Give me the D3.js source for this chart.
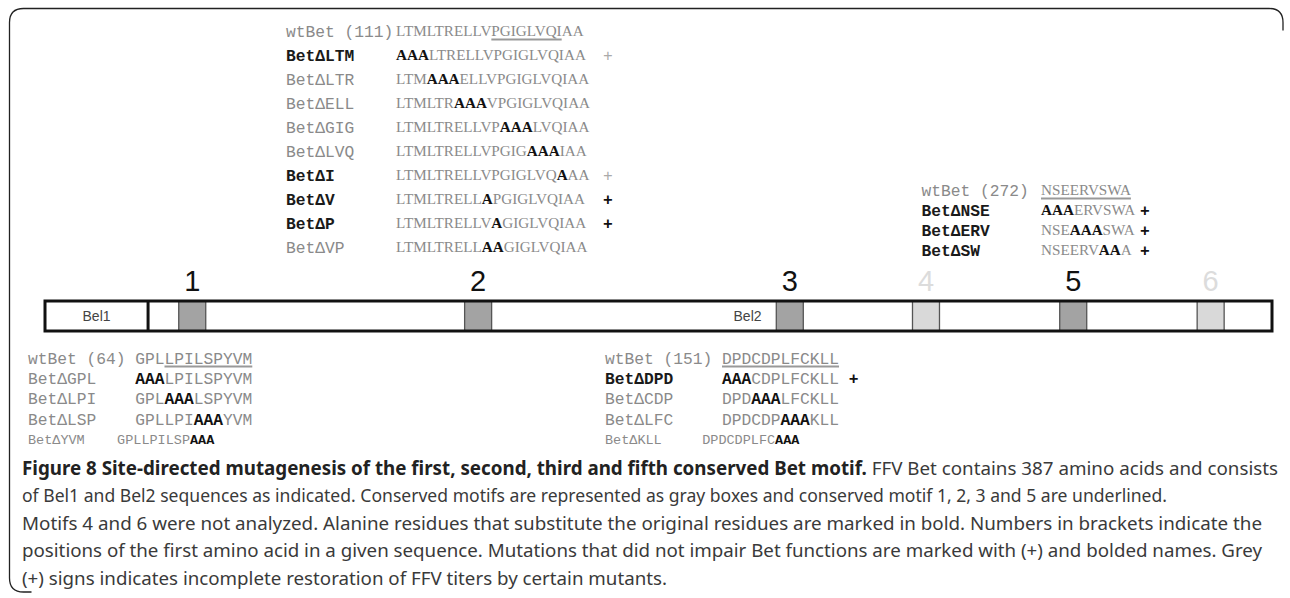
<!DOCTYPE html>
<html>
<head>
<meta charset="utf-8">
<script src="https://cdn.jsdelivr.net/npm/d3@7"></script>
<style>
  body { margin: 0; background: #fff; }
  svg { display: block; }
</style>
</head>
<body>
<script>
var width = 1290, height = 598;

// --- data ---
// motif 2 (top)
var topWt = "LTMLTRELLVPGIGLVQIAA", topPos = 111;
var topNames = ["BetΔLTM", "BetΔLTR", "BetΔELL", "BetΔGIG", "BetΔLVQ", "BetΔI", "BetΔV", "BetΔP", "BetΔVP"];
var topSeqs = ["AAALTRELLVPGIGLVQIAA", "LTMAAAELLVPGIGLVQIAA", "LTMLTRAAAVPGIGLVQIAA", "LTMLTRELLVPAAALVQIAA",
               "LTMLTRELLVPGIGAAAIAA", "LTMLTRELLVPGIGLVQAAA", "LTMLTRELLAPGIGLVQIAA", "LTMLTRELLVAGIGLVQIAA",
               "LTMLTRELLAAGIGLVQIAA"];
var topPlus = [1, 0, 0, 0, 0, 1, 2, 2, 0];      // 0 none, 1 grey +, 2 black +
var topUnder = [10, 18];

// motif 5 (right)
var rightWt = "NSEERVSWA", rightPos = 272;
var rightNames = ["BetΔNSE", "BetΔERV", "BetΔSW"];
var rightSeqs = ["AAAERVSWA", "NSEAAASWA", "NSEERVAAA"];
var rightPlus = [2, 2, 2];
var rightUnder = [0, 9];

// motif 1 (bottom left)
var leftWt = "GPLLPILSPYVM", leftPos = 64;
var leftNames = ["BetΔGPL", "BetΔLPI", "BetΔLSP", "BetΔYVM"];
var leftSeqs = ["AAALPILSPYVM", "GPLAAALSPYVM", "GPLLPIAAAYVM", "GPLLPILSPAAA"];
var leftPlus = [0, 0, 0, 0];
var leftUnder = [3, 12];

// motif 3 (bottom middle)
var midWt = "DPDCDPLFCKLL", midPos = 151;
var midNames = ["BetΔDPD", "BetΔCDP", "BetΔLFC", "BetΔKLL"];
var midSeqs = ["AAACDPLFCKLL", "DPDAAALFCKLL", "DPDCDPAAAKLL", "DPDCDPLFCAAA"];
var midPlus = [2, 0, 0, 0];
var midUnder = [0, 12];

// Bet bar, positions in % of bar length
var motifLabels = ["1", "2", "3", "4", "5", "6"];
var motifStart = [10.9, 34.2, 59.6, 70.7, 82.7, 93.9];
var motifLen = 2.2;
var motifDone = [1, 1, 1, 0, 1, 0];
var bel1End = 8.4;
var bel2End = 58.4;

var captionLines = [
  [["Figure 8 Site-directed mutagenesis of the first, second, third and fifth conserved Bet motif.", true],
   [" FFV Bet contains 387 amino acids and consists", false]],
  [["of Bel1 and Bel2 sequences as indicated. Conserved motifs are represented as gray boxes and conserved motif 1, 2, 3 and 5 are underlined.", false]],
  [["Motifs 4 and 6 were not analyzed. Alanine residues that substitute the original residues are marked in bold. Numbers in brackets indicate the", false]],
  [["positions of the first amino acid in a given sequence. Mutations that did not impair Bet functions are marked with (+) and bolded names. Grey", false]],
  [["(+) signs indicates incomplete restoration of FFV titers by certain mutants.", false]]
];
var captionWidths = [1256, 1145, 1240, 1240, 645];

// --- drawing ---
var svg = d3.select("body").append("svg")
    .attr("width", width)
    .attr("height", height);

// frame: open box, rounded corners top-left, top-right, bottom-left
var r = 14, fx0 = 9.5, fy0 = 8.5, fx1 = 1283, fy1 = 592;
svg.append("path")
    .attr("d", "M" + fx1 + "," + (fy0 + r + 8) +
               "L" + fx1 + "," + (fy0 + r) + "Q" + fx1 + "," + fy0 + " " + (fx1 - r) + "," + fy0 +
               "L" + (fx0 + r) + "," + fy0 + "Q" + fx0 + "," + fy0 + " " + fx0 + "," + (fy0 + r) +
               "L" + fx0 + "," + (fy1 - r) + "Q" + fx0 + "," + fy1 + " " + (fx0 + r) + "," + fy1 +
               "L" + (fx0 + r + 8) + "," + fy1)
    .attr("fill", "none")
    .attr("stroke", "#222")
    .attr("stroke-width", 1.3);

var mono = "'Liberation Mono', 'Courier New', monospace";
var serif = "'Liberation Serif', 'Times New Roman', serif";
var cw = 9.75, fsMono = 16.25, fsSmall = 13.5;
var grey = "#8a8a8a", dark = "#1a1a1a";

// o: x0, y0, dy, seqCol (mono) or seqX (serif), plusX, smallLast
function drawBlock(wt, pos, names, seqs, plus, under, o) {
    var row = d3.scaleLinear().domain([0, 1]).range([o.y0, o.y0 + o.dy]);
    var g = svg.append("g")
        .attr("font-family", mono)
        .attr("font-size", fsMono);

    var rows = [{name: "wtBet (" + pos + ")", seq: wt, plus: 0, wt: true}];
    names.forEach(function(n, i) { rows.push({name: n, seq: seqs[i], plus: plus[i], wt: false}); });

    rows.forEach(function(d, i) {
        var y = row(i);
        var small = o.smallLast && i === rows.length - 1;
        var fs = small ? fsSmall : fsMono;
        var col = d3.scaleLinear().domain([0, 1]).range([o.x0, o.x0 + cw * fs / fsMono]);
        g.append("text")
            .attr("x", col(0)).attr("y", y)
            .attr("dy", "0.35em")
            .attr("font-size", fs)
            .attr("font-weight", d.plus > 0 ? "bold" : "normal")
            .attr("fill", d.plus > 0 ? dark : grey)
            .text(d.name);

        var sx = o.serif ? o.seqX : col(o.seqCol);
        var t = g.append("text").attr("x", sx).attr("y", y).attr("dy", "0.35em")
            .attr("font-size", fs);
        if (o.serif) t.attr("font-family", serif).attr("font-size", o.fsSeq);
        // runs of mutated / original residues
        var runs = [];
        for (var k = 0; k < d.seq.length; k++) {
            var b = !d.wt && d.seq[k] !== wt[k];
            if (runs.length && runs[runs.length - 1].b === b) runs[runs.length - 1].s += d.seq[k];
            else runs.push({s: d.seq[k], b: b});
        }
        runs.forEach(function(u) {
            t.append("tspan")
                .attr("font-weight", u.b ? "bold" : "normal")
                .attr("fill", u.b ? "#111" : grey)
                .text(u.s);
        });

        if (d.plus > 0) {
            g.append("text")
                .attr("x", o.serif ? o.plusX : col(o.seqCol + d.seq.length + 1)).attr("y", y)
                .attr("dy", "0.35em")
                .attr("font-weight", d.plus === 2 ? "bold" : "normal")
                .attr("fill", d.plus === 2 ? "#111" : "#aaa")
                .text("+");
        }
        if (d.wt) {
            // underline the conserved motif: measure the residues in place
            var node = t.node();
            var ux0 = node.getStartPositionOfChar(under[0]).x;
            var ux1 = node.getEndPositionOfChar(under[1] - 1).x;
            g.append("line")
                .attr("x1", ux0).attr("x2", ux1)
                .attr("y1", y + 8.5).attr("y2", y + 8.5)
                .attr("stroke", "#999").attr("stroke-width", 2.2);
        }
    });
}

drawBlock(topWt, topPos, topNames, topSeqs, topPlus, topUnder,
          {x0: 286, y0: 31, dy: 24, serif: true, seqX: 396, fsSeq: 15.2, plusX: 603});
drawBlock(rightWt, rightPos, rightNames, rightSeqs, rightPlus, rightUnder,
          {x0: 921.5, y0: 190, dy: 20, serif: true, seqX: 1041, fsSeq: 15.2, plusX: 1140});
drawBlock(leftWt, leftPos, leftNames, leftSeqs, leftPlus, leftUnder,
          {x0: 28, y0: 358, dy: 20.3, seqCol: 11, smallLast: true});
drawBlock(midWt, midPos, midNames, midSeqs, midPlus, midUnder,
          {x0: 605, y0: 358, dy: 20.3, seqCol: 12, smallLast: true});

// Bet bar
var bx = d3.scaleLinear().domain([0, 100]).range([45, 1272]);
var barY = 301, barH = 30;
var bar = svg.append("g");
bar.append("rect")
    .attr("x", bx(0)).attr("y", barY)
    .attr("width", bx(100) - bx(0)).attr("height", barH)
    .attr("fill", "#fff");

bar.selectAll("rect.motif")
    .data(motifStart)
    .enter().append("rect")
    .attr("class", "motif")
    .attr("x", function(d) { return bx(d); })
    .attr("y", barY)
    .attr("width", bx(motifLen) - bx(0))
    .attr("height", barH)
    .attr("fill", function(d, i) { return motifDone[i] ? "#a3a3a3" : "#d9d9d9"; })
    .attr("stroke", "#555")
    .attr("stroke-width", 1.3);

bar.selectAll("text.num")
    .data(motifStart)
    .enter().append("text")
    .attr("class", "num")
    .attr("x", function(d) { return bx(d + motifLen / 2); })
    .attr("y", barY - 10)
    .attr("text-anchor", "middle")
    .attr("font-family", "'Liberation Sans', Arial, sans-serif")
    .attr("font-size", 29)
    .attr("fill", function(d, i) { return motifDone[i] ? "#111" : "#dcdcdc"; })
    .text(function(d, i) { return motifLabels[i]; });

bar.append("line")
    .attr("x1", bx(bel1End)).attr("x2", bx(bel1End))
    .attr("y1", barY).attr("y2", barY + barH)
    .attr("stroke", "#111").attr("stroke-width", 3);

bar.append("rect")
    .attr("x", bx(0)).attr("y", barY)
    .attr("width", bx(100) - bx(0)).attr("height", barH)
    .attr("fill", "none")
    .attr("stroke", "#111").attr("stroke-width", 3);

bar.append("text")
    .attr("x", bx(bel1End / 2)).attr("y", barY + barH / 2)
    .attr("dy", "0.35em")
    .attr("text-anchor", "middle")
    .attr("font-family", "'Liberation Sans', Arial, sans-serif")
    .attr("font-size", 14)
    .attr("fill", "#444")
    .text("Bel1");

bar.append("text")
    .attr("x", bx(bel2End)).attr("y", barY + barH / 2)
    .attr("dy", "0.35em")
    .attr("text-anchor", "end")
    .attr("font-family", "'Liberation Sans', Arial, sans-serif")
    .attr("font-size", 14)
    .attr("fill", "#444")
    .text("Bel2");

// caption
var cap = svg.append("g").attr("fill", "#333");
var capY = d3.scaleLinear().domain([0, 1]).range([474.5, 502]);
var capTexts = captionLines.map(function(line, i) {
    var t = cap.append("text").attr("x", 22).attr("y", capY(i)).attr("font-size", 18);
    line.forEach(function(s) {
        t.append("tspan")
            .attr("font-weight", s[1] ? "bold" : "normal")
            .attr("fill", s[1] ? "#222" : "#3a3a3a")
            .text(s[0]);
    });
    return t;
});
// pick the installed sans whose line widths are closest in proportion to the figure's
var fonts = ["Lato", "Open Sans", "Noto Sans", "Roboto", "Inter", "Liberation Sans", "DejaVu Sans"];
var best = null;
fonts.forEach(function(f) {
    cap.attr("font-family", "'" + f + "', sans-serif");
    var lr = capTexts.map(function(t, i) {
        return Math.log(captionWidths[i] / t.node().getComputedTextLength());
    });
    var sd = d3.deviation(lr), m = d3.median(lr);
    if (!best || sd < best.sd) best = {f: f, sd: sd, m: m};
});
cap.attr("font-family", "'" + best.f + "', sans-serif");
var fsCap = 18 * Math.exp(best.m);
capTexts.forEach(function(t, i) {
    t.attr("font-size", fsCap)
     .attr("textLength", captionWidths[i])
     .attr("lengthAdjust", "spacingAndGlyphs");
});
</script>
</body>
</html>
